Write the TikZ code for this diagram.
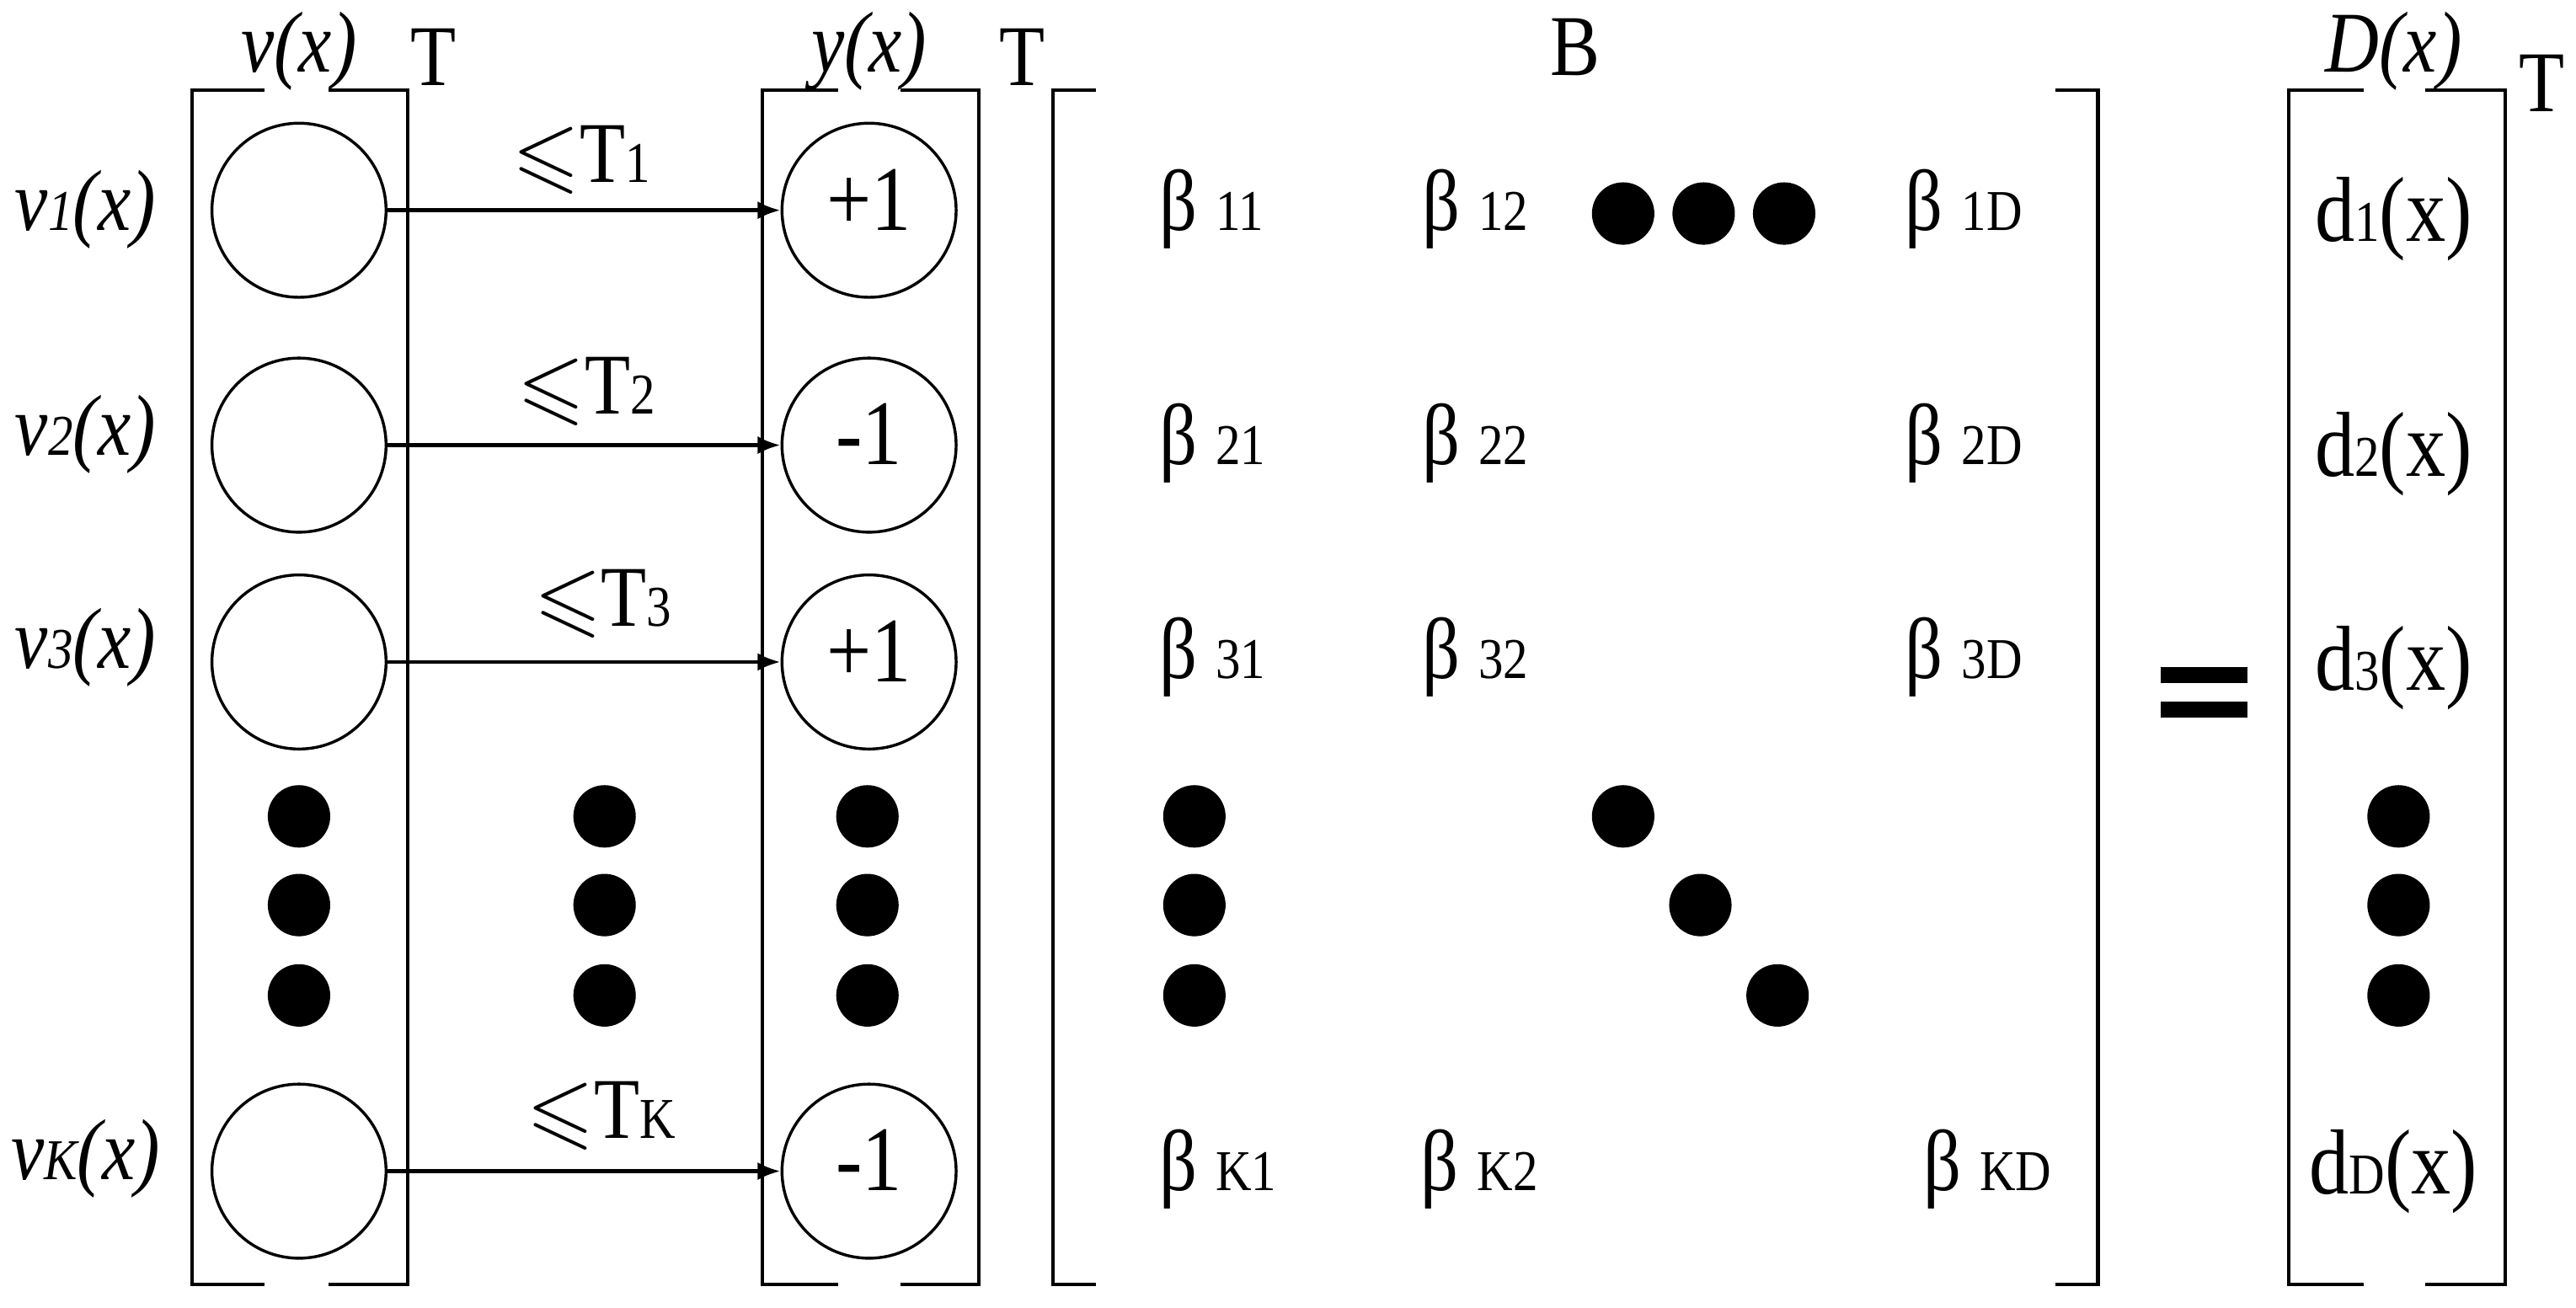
\documentclass[tikz,border=0pt]{standalone}
\usepackage{amssymb}
\usepackage{fontspec}
\setmainfont[FakeStretch=0.86]{Liberation Serif}
\usetikzlibrary{arrows.meta}

\newcommand{\sm}[1]{{\fontsize{10}{10}\selectfont #1}}

\begin{document}
\begin{tikzpicture}[x=0.1mm, y=-0.1mm, >={Latex[length=1.4mm,width=1.1mm]},
    unit/.style={draw, circle, minimum size=10.6mm, inner sep=0pt, line width=0.5pt},
    val/.style={font=\fontsize{16}{16}\selectfont, inner sep=0pt, anchor=base},
    lab/.style={font=\fontsize{15}{15}\selectfont\itshape, inner sep=0pt, anchor=base},
    txt/.style={font=\fontsize{15}{15}\selectfont, inner sep=0pt, anchor=base},
    ent/.style={font=\fontsize{15}{15}\selectfont, inner sep=0pt, anchor=base west},
    dot/.style={fill, circle, minimum size=3.8mm, inner sep=0pt},
    frame/.style={line width=0.6pt}]
    \useasboundingbox (0,0) rectangle (1568,796);

    % boxes and brackets
    \draw[frame] (161,55) -- (117,55) -- (117,782) -- (161,782);
    \draw[frame] (200,55) -- (248,55) -- (248,782) -- (200,782);
    \draw[frame] (510,55) -- (464,55) -- (464,782) -- (510,782);
    \draw[frame] (548,55) -- (596,55) -- (596,782) -- (548,782);
    \draw[frame] (667,55) -- (641,55) -- (641,782) -- (667,782);
    \draw[frame] (1251,55) -- (1277,55) -- (1277,782) -- (1251,782);
    \draw[frame] (1439,55) -- (1393,55) -- (1393,782) -- (1439,782);
    \draw[frame] (1476,55) -- (1525,55) -- (1525,782) -- (1476,782);

    % top labels
    \node[lab] (vx) at (182,44) {v(x)};
    \node[txt] (tv) at (264,52) {T};
    \node[lab] (yx) at (529,44) {y(x)};
    \node[txt] (ty) at (622,52) {T};
    \node[txt] (bm) at (959,46) {B};
    \node[lab] (dx) at (1457,44) {D(x)};
    \node[txt] (td) at (1547,68) {T};

    % row labels
    \node[lab] (l1) at (52,140) {v\sm{1}(x)};
    \node[lab] (l2) at (52,277) {v\sm{2}(x)};
    \node[lab] (l3) at (52,407) {v\sm{3}(x)};
    \node[lab] (lk) at (52,718) {v\sm{K}(x)};

    % units
    \node[unit] (v1) at (182,128) {};
    \node[unit] (v2) at (182,271) {};
    \node[unit] (v3) at (182,403) {};
    \node[unit] (vk) at (182,713) {};
    \node[unit] (y1) at (529,128) {};
    \node[unit] (y2) at (529,271) {};
    \node[unit] (y3) at (529,403) {};
    \node[unit] (yk) at (529,713) {};
    \node[val] (s1) at (529,140) {+1};
    \node[val] (s2) at (529,283) {-1};
    \node[val] (s3) at (529,415) {+1};
    \node[val] (sk) at (529,725) {-1};

    % thresholds
    \draw[->, line width=0.7pt] (v1) -- (y1);
    \draw[->, line width=0.7pt] (v2) -- (y2);
    \draw[->, line width=0.7pt] (v3) -- (y3);
    \draw[->, line width=0.7pt] (vk) -- (yk);
    \node[txt] (t1) at (354,111) {$\leqslant$T\sm{1}};
    \node[txt] (t2) at (357,252) {$\leqslant$T\sm{2}};
    \node[txt] (t3) at (367,381) {$\leqslant$T\sm{3}};
    \node[txt] (tk) at (366,693) {$\leqslant$T\sm{K}};

    % matrix B
    \node[ent] (b11) at (705,140) {β \sm{11}};
    \node[ent] (b12) at (865,140) {β \sm{12}};
    \node[ent] (b1d) at (1159,140) {β \sm{1D}};
    \node[ent] (b21) at (705,283) {β \sm{21}};
    \node[ent] (b22) at (865,283) {β \sm{22}};
    \node[ent] (b2d) at (1159,283) {β \sm{2D}};
    \node[ent] (b31) at (705,413) {β \sm{31}};
    \node[ent] (b32) at (865,413) {β \sm{32}};
    \node[ent] (b3d) at (1159,413) {β \sm{3D}};
    \node[ent] (bk1) at (705,725) {β \sm{K1}};
    \node[ent] (bk2) at (864,725) {β \sm{K2}};
    \node[ent] (bkd) at (1170,725) {β \sm{KD}};

    % D(x)
    \node[val] (d1) at (1457,147) {d\sm{1}(x)};
    \node[val] (d2) at (1457,290) {d\sm{2}(x)};
    \node[val] (d3) at (1457,420) {d\sm{3}(x)};
    \node[val] (dd) at (1457,727) {d\sm{D}(x)};

    % equals
    \fill (1315,406) rectangle (1368,416);
    \fill (1315,427) rectangle (1368,437);

    % dots
    \foreach \c in {182,368,528,727,1460}
        \foreach \r in {497,551,606}
            \node[dot] (d-\c-\r) at (\c,\r) {};
    \node[dot] (h1) at (988,130) {};
    \node[dot] (h2) at (1037,130) {};
    \node[dot] (h3) at (1086,130) {};
    \node[dot] (g1) at (988,497) {};
    \node[dot] (g2) at (1035,551) {};
    \node[dot] (g3) at (1082,606) {};
\end{tikzpicture}
\end{document}
